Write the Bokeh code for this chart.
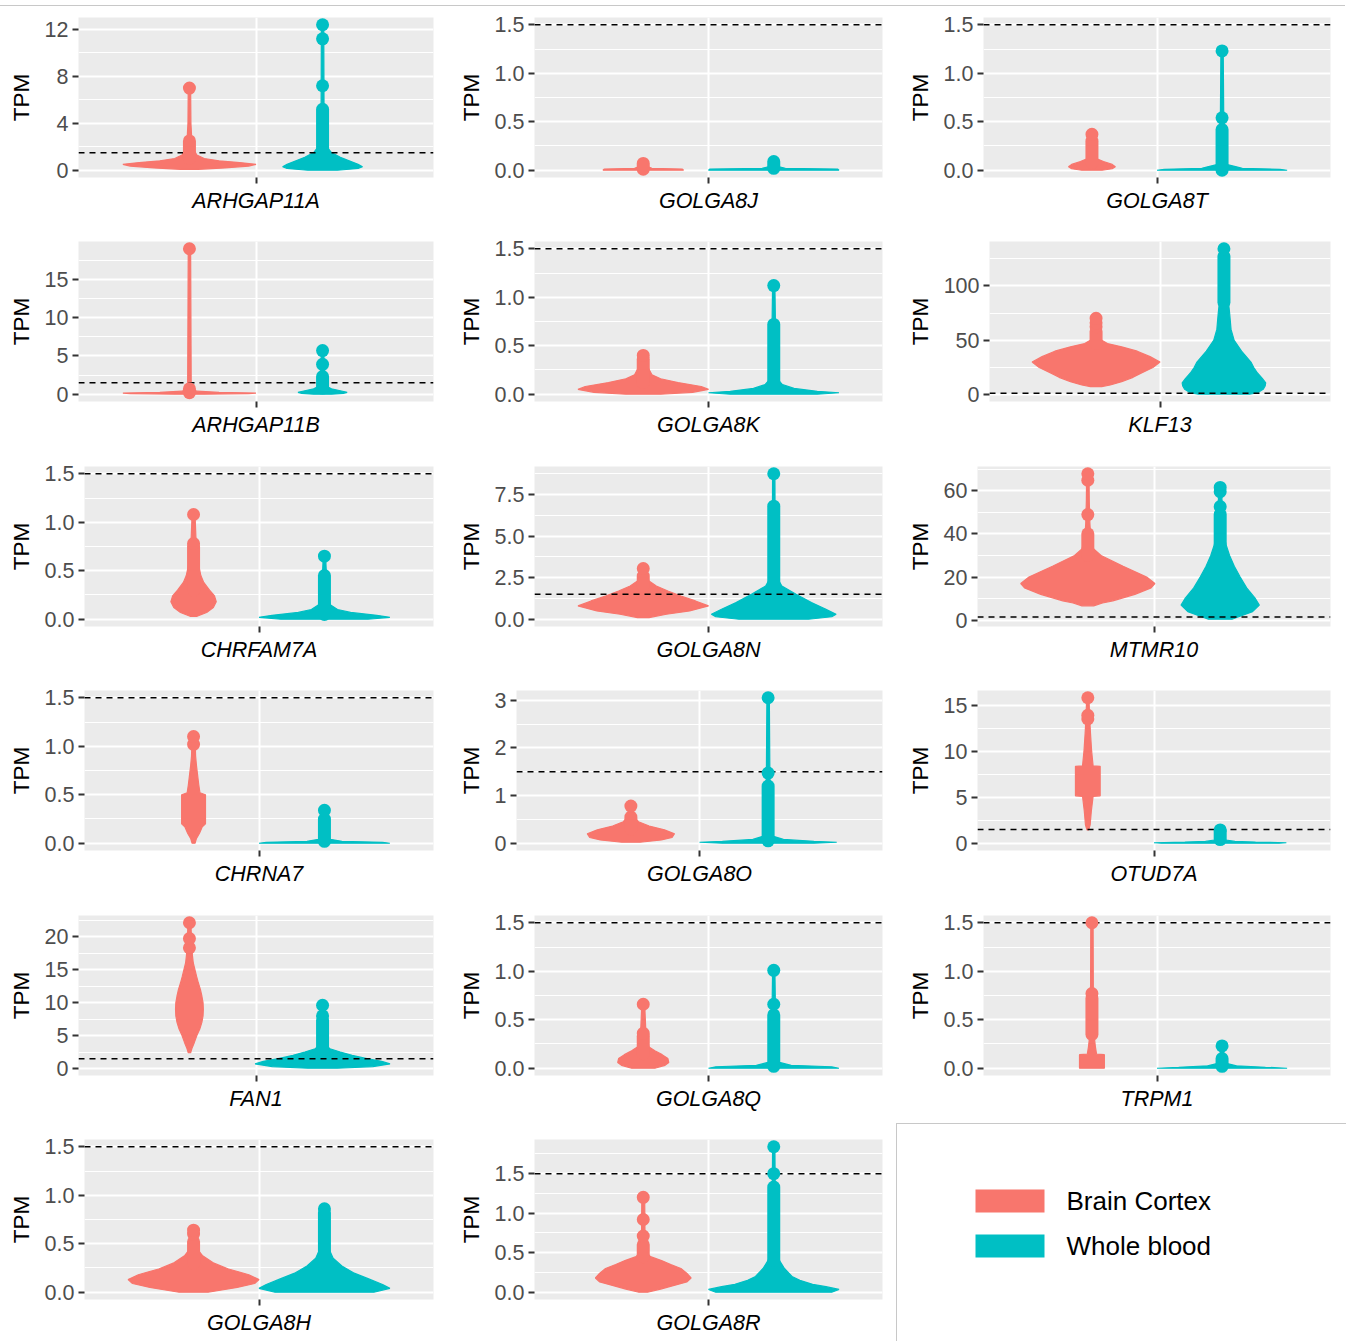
from bokeh.plotting import figure
from bokeh.layouts import row, column
from bokeh.models import Range1d, FixedTicker, Span, Div
from bokeh.core.properties import value
from bokeh.embed import file_html
from bokeh.resources import INLINE

TISSUES = ["Brain Cortex", "Whole blood"]
COLORS = ["#F8766D", "#00BFC4"]
THRESHOLD = 1.5
FONT = "Liberation Sans"

# ---------------- data (TPM) ----------------
# *_Y : TPM levels of the violin outline, *_W : half width of the violin at that level
# *_RUN : range of densely stacked sample points, *_PTS : single visible sample points
ARHGAP11A_TICKS = [0, 4, 8, 12]
ARHGAP11A_LABELS = ["0", "4", "8", "12"]
ARHGAP11A_BC_Y = [0.08, 0.2, 0.35, 0.5, 0.65, 0.8, 1.0, 1.3, 1.8, 2.6, 4.0, 7.0]
ARHGAP11A_BC_W = [0.03, 0.12, 0.2, 0.225, 0.17, 0.1, 0.05, 0.025, 0.014, 0.008, 0.005, 0.004]
ARHGAP11A_BC_RUN = [1.0, 2.5]
ARHGAP11A_BC_PTS = [7.0]
ARHGAP11A_WB_Y = [0.0, 0.15, 0.3, 0.5, 0.8, 1.1, 1.5, 2.0, 3.0, 5.0, 12.4]
ARHGAP11A_WB_W = [0.05, 0.12, 0.135, 0.12, 0.09, 0.06, 0.03, 0.015, 0.007, 0.005, 0.004]
ARHGAP11A_WB_RUN = [1.4, 5.2]
ARHGAP11A_WB_PTS = [7.2, 11.2, 12.4]

GOLGA8J_TICKS = [0, 0.5, 1.0, 1.5]
GOLGA8J_LABELS = ["0.0", "0.5", "1.0", "1.5"]
GOLGA8J_BC_Y = [0.0, 0.012, 0.02, 0.04, 0.09]
GOLGA8J_BC_W = [0.139, 0.135, 0.03, 0.012, 0.006]
GOLGA8J_BC_RUN = [0.01, 0.07]
GOLGA8J_BC_PTS = []
GOLGA8J_WB_Y = [0.0, 0.012, 0.02, 0.04, 0.1]
GOLGA8J_WB_W = [0.225, 0.22, 0.04, 0.012, 0.006]
GOLGA8J_WB_RUN = [0.02, 0.09]
GOLGA8J_WB_PTS = []

GOLGA8T_TICKS = [0, 0.5, 1.0, 1.5]
GOLGA8T_LABELS = ["0.0", "0.5", "1.0", "1.5"]
GOLGA8T_BC_Y = [0.0, 0.015, 0.035, 0.06, 0.09, 0.12, 0.2, 0.37]
GOLGA8T_BC_W = [0.035, 0.07, 0.081, 0.07, 0.04, 0.015, 0.008, 0.005]
GOLGA8T_BC_RUN = [0.08, 0.3]
GOLGA8T_BC_PTS = [0.37]
GOLGA8T_WB_Y = [0.0, 0.01, 0.02, 0.035, 0.06, 0.1, 1.23]
GOLGA8T_WB_W = [0.225, 0.2, 0.07, 0.05, 0.015, 0.007, 0.004]
GOLGA8T_WB_RUN = [0.0, 0.42]
GOLGA8T_WB_PTS = [0.54, 1.23]

ARHGAP11B_TICKS = [0, 5, 10, 15]
ARHGAP11B_LABELS = ["0", "5", "10", "15"]
ARHGAP11B_BC_Y = [0.0, 0.08, 0.15, 0.25, 0.4, 0.7, 1.2, 19.0]
ARHGAP11B_BC_W = [0.05, 0.2, 0.225, 0.1, 0.025, 0.01, 0.006, 0.004]
ARHGAP11B_BC_RUN = [0.2, 0.7]
ARHGAP11B_BC_PTS = [19.0]
ARHGAP11B_WB_Y = [0.0, 0.1, 0.25, 0.45, 0.7, 1.0, 1.5, 5.7]
ARHGAP11B_WB_W = [0.03, 0.07, 0.083, 0.06, 0.03, 0.015, 0.007, 0.004]
ARHGAP11B_WB_RUN = [0.8, 2.3]
ARHGAP11B_WB_PTS = [3.9, 5.7]

GOLGA8K_TICKS = [0, 0.5, 1.0, 1.5]
GOLGA8K_LABELS = ["0.0", "0.5", "1.0", "1.5"]
GOLGA8K_BC_Y = [0.0, 0.02, 0.05, 0.08, 0.12, 0.16, 0.2, 0.3, 0.4]
GOLGA8K_BC_W = [0.06, 0.17, 0.225, 0.2, 0.12, 0.06, 0.03, 0.012, 0.005]
GOLGA8K_BC_RUN = [0.12, 0.36]
GOLGA8K_BC_PTS = [0.4]
GOLGA8K_WB_Y = [0.0, 0.015, 0.03, 0.06, 0.1, 0.15, 0.25, 1.12]
GOLGA8K_WB_W = [0.15, 0.225, 0.15, 0.07, 0.03, 0.015, 0.008, 0.004]
GOLGA8K_WB_RUN = [0.1, 0.72]
GOLGA8K_WB_PTS = [1.12]

KLF13_TICKS = [0, 50, 100]
KLF13_LABELS = ["0", "50", "100"]
KLF13_BC_Y = [7.5, 9, 12, 16, 20, 25, 30, 35, 40, 44, 47, 50, 56, 64, 70.2]
KLF13_BC_W = [0.02, 0.05, 0.09, 0.13, 0.16, 0.2, 0.225, 0.19, 0.145, 0.09, 0.04, 0.02, 0.012, 0.008, 0.005]
KLF13_BC_RUN = [47, 58]
KLF13_BC_PTS = [62.5, 66, 70.2]
KLF13_WB_Y = [0.5, 2, 5, 8, 11, 15, 20, 25, 30, 40, 50, 60, 75, 90, 110, 134]
KLF13_WB_W = [0.09, 0.12, 0.138, 0.145, 0.147, 0.135, 0.118, 0.105, 0.095, 0.062, 0.036, 0.025, 0.02, 0.014, 0.008, 0.005]
KLF13_WB_RUN = [85, 127]
KLF13_WB_PTS = [134]

CHRFAM7A_TICKS = [0, 0.5, 1.0, 1.5]
CHRFAM7A_LABELS = ["0.0", "0.5", "1.0", "1.5"]
CHRFAM7A_BC_Y = [0.03, 0.07, 0.12, 0.18, 0.24, 0.3, 0.38, 0.45, 0.55, 0.7, 1.08]
CHRFAM7A_BC_W = [0.012, 0.045, 0.068, 0.078, 0.072, 0.055, 0.035, 0.025, 0.018, 0.01, 0.005]
CHRFAM7A_BC_RUN = [0.3, 0.75]
CHRFAM7A_BC_PTS = [0.78, 1.08]
CHRFAM7A_WB_Y = [0.0, 0.02, 0.04, 0.07, 0.1, 0.15, 0.25, 0.65]
CHRFAM7A_WB_W = [0.15, 0.225, 0.18, 0.09, 0.045, 0.02, 0.01, 0.004]
CHRFAM7A_WB_RUN = [0.05, 0.45]
CHRFAM7A_WB_PTS = [0.65]

GOLGA8N_TICKS = [0, 2.5, 5.0, 7.5]
GOLGA8N_LABELS = ["0.0", "2.5", "5.0", "7.5"]
GOLGA8N_BC_Y = [0.1, 0.3, 0.5, 0.8, 1.1, 1.4, 1.7, 2.0, 2.3, 2.6, 3.05]
GOLGA8N_BC_W = [0.02, 0.08, 0.16, 0.225, 0.18, 0.13, 0.085, 0.045, 0.02, 0.01, 0.005]
GOLGA8N_BC_RUN = [2.0, 2.6]
GOLGA8N_BC_PTS = [3.05]
GOLGA8N_WB_Y = [0.0, 0.15, 0.3, 0.6, 1.0, 1.5, 2.0, 2.5, 3.5, 5.0, 8.75]
GOLGA8N_WB_W = [0.12, 0.2, 0.215, 0.18, 0.13, 0.077, 0.028, 0.012, 0.007, 0.005, 0.004]
GOLGA8N_WB_RUN = [2.0, 6.8]
GOLGA8N_WB_PTS = [8.75]

MTMR10_TICKS = [0, 20, 40, 60]
MTMR10_LABELS = ["0", "20", "40", "60"]
MTMR10_BC_Y = [6.7, 8, 9, 12, 15, 17, 20, 25, 30, 33, 38, 45, 55, 67.8]
MTMR10_BC_W = [0.02, 0.05, 0.085, 0.16, 0.215, 0.228, 0.2, 0.12, 0.045, 0.02, 0.01, 0.007, 0.005, 0.004]
MTMR10_BC_RUN = [30, 40]
MTMR10_BC_PTS = [48.9, 64.8, 67.8]
MTMR10_WB_Y = [0.5, 2, 4, 7, 10, 15, 20, 25, 30, 35, 40, 50, 61.5]
MTMR10_WB_W = [0.04, 0.07, 0.11, 0.133, 0.12, 0.09, 0.068, 0.048, 0.032, 0.02, 0.012, 0.007, 0.005]
MTMR10_WB_RUN = [35, 49]
MTMR10_WB_PTS = [52.6, 59.5, 61.5]

CHRNA7_TICKS = [0, 0.5, 1.0, 1.5]
CHRNA7_LABELS = ["0.0", "0.5", "1.0", "1.5"]
CHRNA7_BC_Y = [0.0, 0.05, 0.1, 0.17, 0.2, 0.5, 0.52, 0.6, 0.7, 0.8, 0.9, 1.1]
CHRNA7_BC_W = [0.005, 0.01, 0.02, 0.03, 0.041, 0.041, 0.022, 0.018, 0.014, 0.01, 0.007, 0.005]
CHRNA7_BC_RUN = None
CHRNA7_BC_PTS = [1.02, 1.1]
CHRNA7_WB_Y = [0.0, 0.01, 0.02, 0.04, 0.08, 0.34]
CHRNA7_WB_W = [0.225, 0.2, 0.06, 0.02, 0.008, 0.004]
CHRNA7_WB_RUN = [0.02, 0.25]
CHRNA7_WB_PTS = [0.34]

GOLGA8O_TICKS = [0, 1, 2, 3]
GOLGA8O_LABELS = ["0", "1", "2", "3"]
GOLGA8O_BC_Y = [0.02, 0.07, 0.12, 0.2, 0.28, 0.36, 0.45, 0.55, 0.78]
GOLGA8O_BC_W = [0.03, 0.1, 0.135, 0.143, 0.11, 0.06, 0.025, 0.01, 0.005]
GOLGA8O_BC_RUN = [0.3, 0.55]
GOLGA8O_BC_PTS = [0.78]
GOLGA8O_WB_Y = [0.0, 0.02, 0.04, 0.08, 0.15, 0.3, 3.05]
GOLGA8O_WB_W = [0.15, 0.225, 0.15, 0.05, 0.015, 0.007, 0.004]
GOLGA8O_WB_RUN = [0.05, 1.2]
GOLGA8O_WB_PTS = [1.47, 3.05]

OTUD7A_TICKS = [0, 5, 10, 15]
OTUD7A_LABELS = ["0", "5", "10", "15"]
OTUD7A_BC_Y = [1.45, 2.0, 3.5, 5.1, 5.15, 8.35, 8.4, 10, 12, 13.7, 15.8]
OTUD7A_BC_W = [0.003, 0.008, 0.012, 0.018, 0.042, 0.042, 0.018, 0.013, 0.009, 0.006, 0.004]
OTUD7A_BC_RUN = None
OTUD7A_BC_PTS = [13.5, 13.9, 15.8]
OTUD7A_WB_Y = [0.0, 0.05, 0.12, 0.2, 0.35, 0.6, 1.45]
OTUD7A_WB_W = [0.2, 0.225, 0.12, 0.05, 0.02, 0.01, 0.005]
OTUD7A_WB_RUN = [0.4, 1.3]
OTUD7A_WB_PTS = [1.45]

FAN1_TICKS = [0, 5, 10, 15, 20]
FAN1_LABELS = ["0", "5", "10", "15", "20"]
FAN1_BC_Y = [2.4, 3, 4, 5, 6, 7, 8, 9, 10, 11, 12, 13, 14, 16, 18, 22.1]
FAN1_BC_W = [0.004, 0.008, 0.017, 0.025, 0.035, 0.042, 0.046, 0.047, 0.046, 0.042, 0.037, 0.03, 0.024, 0.013, 0.008, 0.005]
FAN1_BC_RUN = None
FAN1_BC_PTS = [18.3, 19.7, 22.1]
FAN1_WB_Y = [0.05, 0.3, 0.7, 1.1, 1.5, 2.0, 2.5, 3.0, 3.5, 5.0, 9.6]
FAN1_WB_W = [0.05, 0.17, 0.228, 0.2, 0.15, 0.1, 0.06, 0.025, 0.012, 0.007, 0.004]
FAN1_WB_RUN = [3.0, 7.3]
FAN1_WB_PTS = [8.0, 9.6]

GOLGA8Q_TICKS = [0, 0.5, 1.0, 1.5]
GOLGA8Q_LABELS = ["0.0", "0.5", "1.0", "1.5"]
GOLGA8Q_BC_Y = [0.0, 0.03, 0.06, 0.1, 0.14, 0.18, 0.22, 0.3, 0.66]
GOLGA8Q_BC_W = [0.04, 0.075, 0.088, 0.085, 0.065, 0.04, 0.02, 0.01, 0.005]
GOLGA8Q_BC_RUN = [0.15, 0.33]
GOLGA8Q_BC_PTS = [0.36, 0.66]
GOLGA8Q_WB_Y = [0.0, 0.015, 0.03, 0.06, 0.1, 1.01]
GOLGA8Q_WB_W = [0.225, 0.2, 0.06, 0.02, 0.008, 0.004]
GOLGA8Q_WB_RUN = [0.02, 0.55]
GOLGA8Q_WB_PTS = [0.66, 1.01]

TRPM1_TICKS = [0, 0.5, 1.0, 1.5]
TRPM1_LABELS = ["0.0", "0.5", "1.0", "1.5"]
TRPM1_BC_Y = [0.0, 0.14, 0.145, 0.22, 0.3, 0.4, 0.6, 1.5]
TRPM1_BC_W = [0.043, 0.043, 0.016, 0.012, 0.009, 0.007, 0.005, 0.004]
TRPM1_BC_RUN = [0.35, 0.72]
TRPM1_BC_PTS = [0.77, 1.5]
TRPM1_WB_Y = [0.0, 0.01, 0.025, 0.05, 0.1, 0.23]
TRPM1_WB_W = [0.225, 0.15, 0.05, 0.015, 0.007, 0.004]
TRPM1_WB_RUN = [0.02, 0.1]
TRPM1_WB_PTS = [0.23]

GOLGA8H_TICKS = [0, 0.5, 1.0, 1.5]
GOLGA8H_LABELS = ["0.0", "0.5", "1.0", "1.5"]
GOLGA8H_BC_Y = [0.0, 0.05, 0.09, 0.13, 0.18, 0.24, 0.3, 0.38, 0.45, 0.64]
GOLGA8H_BC_W = [0.05, 0.15, 0.21, 0.225, 0.19, 0.12, 0.07, 0.03, 0.012, 0.005]
GOLGA8H_BC_RUN = [0.3, 0.52]
GOLGA8H_BC_PTS = [0.6, 0.64]
GOLGA8H_WB_Y = [0.0, 0.04, 0.08, 0.14, 0.2, 0.27, 0.35, 0.45, 0.6, 0.86]
GOLGA8H_WB_W = [0.17, 0.225, 0.2, 0.15, 0.1, 0.06, 0.03, 0.015, 0.008, 0.005]
GOLGA8H_WB_RUN = [0.3, 0.82]
GOLGA8H_WB_PTS = [0.86]

GOLGA8R_TICKS = [0, 0.5, 1.0, 1.5]
GOLGA8R_LABELS = ["0.0", "0.5", "1.0", "1.5"]
GOLGA8R_BC_Y = [0.0, 0.04, 0.08, 0.13, 0.18, 0.24, 0.3, 0.35, 0.4, 0.45, 0.5, 0.7, 1.2]
GOLGA8R_BC_W = [0.015, 0.06, 0.1, 0.15, 0.165, 0.15, 0.13, 0.095, 0.063, 0.025, 0.012, 0.006, 0.005]
GOLGA8R_BC_RUN = [0.45, 0.6]
GOLGA8R_BC_PTS = [0.71, 0.92, 1.2]
GOLGA8R_WB_Y = [0.0, 0.035, 0.07, 0.1, 0.15, 0.2, 0.3, 0.4, 0.5, 0.8, 1.84]
GOLGA8R_WB_W = [0.2, 0.225, 0.18, 0.134, 0.09, 0.063, 0.037, 0.02, 0.01, 0.006, 0.004]
GOLGA8R_WB_RUN = [0.4, 1.33]
GOLGA8R_WB_PTS = [1.5, 1.84]

PANELS = {
    "ARHGAP11A": (ARHGAP11A_TICKS, ARHGAP11A_LABELS,
                  [(ARHGAP11A_BC_Y, ARHGAP11A_BC_W, ARHGAP11A_BC_RUN, ARHGAP11A_BC_PTS),
                   (ARHGAP11A_WB_Y, ARHGAP11A_WB_W, ARHGAP11A_WB_RUN, ARHGAP11A_WB_PTS)]),
    "GOLGA8J": (GOLGA8J_TICKS, GOLGA8J_LABELS,
                [(GOLGA8J_BC_Y, GOLGA8J_BC_W, GOLGA8J_BC_RUN, GOLGA8J_BC_PTS),
                 (GOLGA8J_WB_Y, GOLGA8J_WB_W, GOLGA8J_WB_RUN, GOLGA8J_WB_PTS)]),
    "GOLGA8T": (GOLGA8T_TICKS, GOLGA8T_LABELS,
                [(GOLGA8T_BC_Y, GOLGA8T_BC_W, GOLGA8T_BC_RUN, GOLGA8T_BC_PTS),
                 (GOLGA8T_WB_Y, GOLGA8T_WB_W, GOLGA8T_WB_RUN, GOLGA8T_WB_PTS)]),
    "ARHGAP11B": (ARHGAP11B_TICKS, ARHGAP11B_LABELS,
                  [(ARHGAP11B_BC_Y, ARHGAP11B_BC_W, ARHGAP11B_BC_RUN, ARHGAP11B_BC_PTS),
                   (ARHGAP11B_WB_Y, ARHGAP11B_WB_W, ARHGAP11B_WB_RUN, ARHGAP11B_WB_PTS)]),
    "GOLGA8K": (GOLGA8K_TICKS, GOLGA8K_LABELS,
                [(GOLGA8K_BC_Y, GOLGA8K_BC_W, GOLGA8K_BC_RUN, GOLGA8K_BC_PTS),
                 (GOLGA8K_WB_Y, GOLGA8K_WB_W, GOLGA8K_WB_RUN, GOLGA8K_WB_PTS)]),
    "KLF13": (KLF13_TICKS, KLF13_LABELS,
              [(KLF13_BC_Y, KLF13_BC_W, KLF13_BC_RUN, KLF13_BC_PTS),
               (KLF13_WB_Y, KLF13_WB_W, KLF13_WB_RUN, KLF13_WB_PTS)]),
    "CHRFAM7A": (CHRFAM7A_TICKS, CHRFAM7A_LABELS,
                 [(CHRFAM7A_BC_Y, CHRFAM7A_BC_W, CHRFAM7A_BC_RUN, CHRFAM7A_BC_PTS),
                  (CHRFAM7A_WB_Y, CHRFAM7A_WB_W, CHRFAM7A_WB_RUN, CHRFAM7A_WB_PTS)]),
    "GOLGA8N": (GOLGA8N_TICKS, GOLGA8N_LABELS,
                [(GOLGA8N_BC_Y, GOLGA8N_BC_W, GOLGA8N_BC_RUN, GOLGA8N_BC_PTS),
                 (GOLGA8N_WB_Y, GOLGA8N_WB_W, GOLGA8N_WB_RUN, GOLGA8N_WB_PTS)]),
    "MTMR10": (MTMR10_TICKS, MTMR10_LABELS,
               [(MTMR10_BC_Y, MTMR10_BC_W, MTMR10_BC_RUN, MTMR10_BC_PTS),
                (MTMR10_WB_Y, MTMR10_WB_W, MTMR10_WB_RUN, MTMR10_WB_PTS)]),
    "CHRNA7": (CHRNA7_TICKS, CHRNA7_LABELS,
               [(CHRNA7_BC_Y, CHRNA7_BC_W, CHRNA7_BC_RUN, CHRNA7_BC_PTS),
                (CHRNA7_WB_Y, CHRNA7_WB_W, CHRNA7_WB_RUN, CHRNA7_WB_PTS)]),
    "GOLGA8O": (GOLGA8O_TICKS, GOLGA8O_LABELS,
                [(GOLGA8O_BC_Y, GOLGA8O_BC_W, GOLGA8O_BC_RUN, GOLGA8O_BC_PTS),
                 (GOLGA8O_WB_Y, GOLGA8O_WB_W, GOLGA8O_WB_RUN, GOLGA8O_WB_PTS)]),
    "OTUD7A": (OTUD7A_TICKS, OTUD7A_LABELS,
               [(OTUD7A_BC_Y, OTUD7A_BC_W, OTUD7A_BC_RUN, OTUD7A_BC_PTS),
                (OTUD7A_WB_Y, OTUD7A_WB_W, OTUD7A_WB_RUN, OTUD7A_WB_PTS)]),
    "FAN1": (FAN1_TICKS, FAN1_LABELS,
             [(FAN1_BC_Y, FAN1_BC_W, FAN1_BC_RUN, FAN1_BC_PTS),
              (FAN1_WB_Y, FAN1_WB_W, FAN1_WB_RUN, FAN1_WB_PTS)]),
    "GOLGA8Q": (GOLGA8Q_TICKS, GOLGA8Q_LABELS,
                [(GOLGA8Q_BC_Y, GOLGA8Q_BC_W, GOLGA8Q_BC_RUN, GOLGA8Q_BC_PTS),
                 (GOLGA8Q_WB_Y, GOLGA8Q_WB_W, GOLGA8Q_WB_RUN, GOLGA8Q_WB_PTS)]),
    "TRPM1": (TRPM1_TICKS, TRPM1_LABELS,
              [(TRPM1_BC_Y, TRPM1_BC_W, TRPM1_BC_RUN, TRPM1_BC_PTS),
               (TRPM1_WB_Y, TRPM1_WB_W, TRPM1_WB_RUN, TRPM1_WB_PTS)]),
    "GOLGA8H": (GOLGA8H_TICKS, GOLGA8H_LABELS,
                [(GOLGA8H_BC_Y, GOLGA8H_BC_W, GOLGA8H_BC_RUN, GOLGA8H_BC_PTS),
                 (GOLGA8H_WB_Y, GOLGA8H_WB_W, GOLGA8H_WB_RUN, GOLGA8H_WB_PTS)]),
    "GOLGA8R": (GOLGA8R_TICKS, GOLGA8R_LABELS,
                [(GOLGA8R_BC_Y, GOLGA8R_BC_W, GOLGA8R_BC_RUN, GOLGA8R_BC_PTS),
                 (GOLGA8R_WB_Y, GOLGA8R_WB_W, GOLGA8R_WB_RUN, GOLGA8R_WB_PTS)]),
}

GRID = [
    ["ARHGAP11A", "GOLGA8J", "GOLGA8T"],
    ["ARHGAP11B", "GOLGA8K", "KLF13"],
    ["CHRFAM7A", "GOLGA8N", "MTMR10"],
    ["CHRNA7", "GOLGA8O", "OTUD7A"],
    ["FAN1", "GOLGA8Q", "TRPM1"],
    ["GOLGA8H", "GOLGA8R", None],
]

# ---------------- layout ----------------
RULE_TOP = 5
COL_W = [448, 449, 450]
COL_ML = [5, 7, 7]
COL_MR = [15, 15, 17]
ROW_H = [223, 225, 224, 224, 222, 218]
ROW_MT = [11, 12, 12, 12, 13, 15]
FRAME_H = 160
BORDER = "#C8C8C8"

# legend geometry (pixels inside the legend cell)
LEG_KEY_X, LEG_KEY_W, LEG_KEY_H = 78, 69, 23
LEG_KEY_Y0, LEG_PITCH, LEG_TEXT_GAP = 65, 45, 22

X_CENTER = 1.0
DODGE_W = 0.9
X_LO, X_HI = X_CENTER - 0.6, X_CENTER + 0.6


def make_panel(gene, ci, ri):
    ticks, labels, groups = PANELS[gene]
    allv = [THRESHOLD]
    for ys, ws, run, pts in groups:
        allv += list(ys) + list(pts) + (list(run) if run else [])
    lo, hi = min(allv), max(allv)
    pad = 0.05 * (hi - lo)
    w = COL_W[ci] - COL_ML[ci]
    h = ROW_H[ri]
    p = figure(width=w, height=h, x_range=Range1d(X_LO, X_HI),
               y_range=Range1d(lo - pad, hi + pad),
               output_backend="svg", toolbar_location=None,
               min_border_left=0, min_border_right=COL_MR[ci],
               min_border_top=ROW_MT[ri], min_border_bottom=h - ROW_MT[ri] - FRAME_H,
               margin=(0, 0, 0, COL_ML[ci]),
               background_fill_color="#EBEBEB", border_fill_color="white",
               outline_line_color=None)
    step = ticks[1] - ticks[0]
    minors = [t + step / 2 for t in [ticks[0] - step] + ticks]
    p.yaxis.ticker = FixedTicker(ticks=ticks, minor_ticks=minors)
    p.xaxis.ticker = FixedTicker(ticks=[X_CENTER])
    p.ygrid.grid_line_color = "white"
    p.ygrid.grid_line_width = 2
    p.ygrid.minor_grid_line_color = "white"
    p.ygrid.minor_grid_line_width = 1
    p.xgrid.grid_line_color = "white"
    p.xgrid.grid_line_width = 2
    for ax in (p.xaxis[0], p.yaxis[0]):
        ax.axis_line_color = None
        ax.major_tick_in = 0
        ax.major_tick_out = 6
        ax.major_tick_line_color = "#333333"
        ax.major_tick_line_width = 2
        ax.minor_tick_in = 0
        ax.minor_tick_out = 0
        ax.major_label_text_font = FONT
    p.yaxis.major_label_overrides = {t: l for t, l in zip(ticks, labels)}
    p.yaxis.major_label_text_font_size = "21.5px"
    p.yaxis.major_label_text_color = "#4D4D4D"
    p.yaxis.major_label_standoff = 4
    p.yaxis.axis_label = "TPM"
    p.yaxis.axis_label_text_font = FONT
    p.yaxis.axis_label_text_font_style = "normal"
    p.yaxis.axis_label_text_font_size = "22.5px"
    p.yaxis.axis_label_text_color = "black"
    p.yaxis.axis_label_standoff = 8
    p.xaxis.major_label_overrides = {X_CENTER: gene}
    p.xaxis.major_label_text_font_size = "21.5px"
    p.xaxis.major_label_text_font_style = "italic"
    p.xaxis.major_label_text_color = "black"
    p.xaxis.major_label_standoff = 5

    offsets = [-DODGE_W / 4, DODGE_W / 4]
    for (ys, ws, run, pts), off, col in zip(groups, offsets, COLORS):
        cx = X_CENTER + off
        xs = [cx + v for v in ws] + [cx - v for v in reversed(ws)]
        yy = list(ys) + list(reversed(ys))
        p.patch(xs, yy, fill_color=col, line_color=col, line_width=1.2)
    p.add_layout(Span(location=THRESHOLD, dimension="width", line_color="black",
                      line_width=1.5, line_dash="6 5"))
    for (ys, ws, run, pts), off, col in zip(groups, offsets, COLORS):
        cx = X_CENTER + off
        if run:
            p.segment(x0=[cx], y0=[run[0]], x1=[cx], y1=[run[1]], line_color=col,
                      line_width=13, line_cap="round", level="overlay")
        if pts:
            p.scatter(x=[cx] * len(pts), y=pts, size=13, fill_color=col,
                      line_color=None, level="overlay")
    return p


def make_legend(ci, ri):
    W, H = COL_W[ci], ROW_H[ri]
    mt = ROW_MT[ri]
    # frame matches the neighbouring panels; ranges are the cell's pixel coordinates
    lp = figure(width=W, height=H, x_range=Range1d(0, W),
                y_range=Range1d(mt + FRAME_H, mt),
                output_backend="svg", toolbar_location=None,
                min_border_left=0, min_border_right=0,
                min_border_top=mt, min_border_bottom=H - mt - FRAME_H,
                outline_line_color=None,
                x_axis_location=None, y_axis_location=None,
                background_fill_color="white", border_fill_color="white",
                styles={"box-shadow": "-1px -1px 0px 0px " + BORDER})
    lp.grid.visible = False
    tops = [LEG_KEY_Y0 + i * LEG_PITCH for i in range(len(TISSUES))]
    lp.quad(left=[LEG_KEY_X] * len(TISSUES), right=[LEG_KEY_X + LEG_KEY_W] * len(TISSUES),
            top=tops, bottom=[t + LEG_KEY_H for t in tops],
            fill_color=COLORS, line_color=None)
    lp.text(x=[LEG_KEY_X + LEG_KEY_W + LEG_TEXT_GAP] * len(TISSUES),
            y=[t + LEG_KEY_H / 2 for t in tops], text=TISSUES,
            text_font=value(FONT), text_font_size="26px", text_color="black",
            text_baseline="middle", text_align="left")
    return lp


rule = Div(text="", width=sum(COL_W) - 2, height=1, margin=(RULE_TOP, 0, 0, 0),
           styles={"background-color": BORDER})

rows = [rule]
for ri, names in enumerate(GRID):
    figs = []
    for ci, g in enumerate(names):
        figs.append(make_panel(g, ci, ri) if g else make_legend(ci, ri))
    rows.append(row(*figs, spacing=0))
layout = column(*rows, spacing=0)

open("out.html", "w").write(file_html(layout, INLINE))
